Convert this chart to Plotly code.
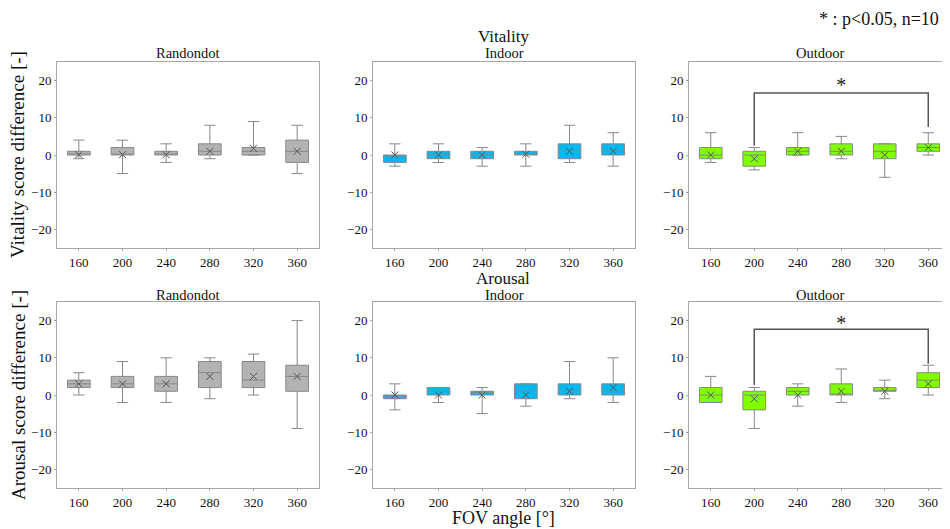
import plotly.graph_objects as go

fov = ['160', '200', '240', '280', '320', '360']
conditions = ['Randondot', 'Indoor', 'Outdoor']
fills = ['#b3b3b3', '#00b9f2', '#7fff00']

# Vitality score difference: per condition [Randondot, Indoor, Outdoor]
vit_lower = [[-1, -5, -2, -1, 0, -5], [-3, -2, -3, -3, -2, -3], [-2, -4, 0, -1, -6, 0]]
vit_q1 = [[0, 0, 0, 0, 0, -2], [-2, -1, -1, 0, -1, 0], [-1, -3, 0, 0, -1, 1]]
vit_median = [[0, 0, 0, 1, 1, 1], [0, 0, 0, 0, 1, 1], [0, 0, 1, 1, 1, 2]]
vit_q3 = [[1, 2, 1, 3, 2, 4], [0, 1, 1, 1, 3, 3], [2, 1, 2, 3, 3, 3]]
vit_upper = [[4, 4, 3, 8, 9, 8], [3, 3, 2, 3, 8, 6], [6, 2, 6, 5, 3, 6]]
vit_mean = [[0.1, 0.1, 0.1, 1, 1.8, 1], [0, 0, 0, 0.2, 1, 1], [0, -1, 1, 1, 0, 2]]

# Arousal score difference
ar_lower = [[0, -2, -2, -1, 0, -9], [-4, -2, -5, -3, -1, -2], [-2, -9, -3, -2, -1, 0]]
ar_q1 = [[2, 2, 1, 2, 2, 1], [-1, 0, 0, -1, 0, 0], [-2, -4, 0, 0, 1, 2]]
ar_median = [[3, 3, 3, 6, 4, 5], [0, 1, 1, 1, 1, 1], [0, 0, 1, 0, 1, 4]]
ar_q3 = [[4, 5, 5, 9, 9, 8], [0, 2, 1, 3, 3, 3], [2, 1, 2, 3, 2, 6]]
ar_upper = [[6, 9, 10, 10, 11, 20], [3, 2, 2, 3, 9, 10], [5, 2, 3, 7, 4, 8]]
ar_mean = [[3, 3, 3, 5, 5, 5], [0, 0, 0, 0, 1, 2], [0, -1, 0, 1, 1, 3]]

# significance brackets (Outdoor, 200 vs 360)
brk_x = ['200', '200', '360', '360']
brk_vit = [2.5, 16.7, 16.7, 7.5]
brk_ar = [2.7, 17.7, 17.7, 8.4]
star_x = ['280']
star_vit = [18.4]
star_ar = [18.9]

FONT = 'Liberation Serif'
OFF = 8                      # page body margin offset
W, H = 950 - OFF, 529 - OFF  # figure size visible in the window


def px_x(p):
    return (p - OFF) / W


def px_y(p):
    return (H - (p - OFF)) / H


fig = go.Figure()

xdom = [[px_x(57), px_x(319)], [px_x(373), px_x(635)], [px_x(689), 1.0]]
ydom = [[px_y(248), px_y(62)], [px_y(488), px_y(302)]]

rows = [
    (vit_lower, vit_q1, vit_median, vit_q3, vit_upper, vit_mean, brk_vit, star_vit),
    (ar_lower, ar_q1, ar_median, ar_q3, ar_upper, ar_mean, brk_ar, star_ar),
]

layout_axes = {}
for r, (lo, q1, med, q3, hi, mn, brk, star) in enumerate(rows):
    for c in range(3):
        idx = r * 3 + c + 1
        xa = 'x' if idx == 1 else f'x{idx}'
        ya = 'y' if idx == 1 else f'y{idx}'
        fig.add_trace(go.Box(
            x=fov, q1=q1[c], median=med[c], q3=q3[c],
            lowerfence=lo[c], upperfence=hi[c],
            boxpoints=False, width=0.52, whiskerwidth=0.5,
            fillcolor=fills[c], line=dict(color='#888888', width=1),
            xaxis=xa, yaxis=ya, showlegend=False, hoverinfo='skip'))
        fig.add_trace(go.Scatter(
            x=fov, y=mn[c], mode='markers',
            marker=dict(symbol='x-thin-open', size=7, color='#555555',
                        line=dict(color='#555555', width=1)),
            xaxis=xa, yaxis=ya, showlegend=False, hoverinfo='skip'))
        if c == 2:
            fig.add_trace(go.Scatter(
                x=brk_x, y=brk, mode='lines',
                line=dict(color='#555555', width=1.5),
                xaxis=xa, yaxis=ya, showlegend=False, hoverinfo='skip'))
            fig.add_trace(go.Scatter(
                x=star_x, y=star, mode='text', text=['*'],
                textfont=dict(family=FONT, size=20, color='#222222'),
                textposition='middle center',
                xaxis=xa, yaxis=ya, showlegend=False, hoverinfo='skip'))
        axcommon = dict(showline=True, linecolor='#a6a6a6', linewidth=1, mirror=True,
                        showgrid=False, zeroline=False, ticks='outside', ticklen=2,
                        tickcolor='#a6a6a6',
                        tickfont=dict(family=FONT, size=13, color='#111111'))
        layout_axes['xaxis' if idx == 1 else f'xaxis{idx}'] = dict(
            axcommon, domain=xdom[c], type='category', categoryorder='array',
            categoryarray=fov, range=[-0.5, 5.5], anchor=ya)
        layout_axes['yaxis' if idx == 1 else f'yaxis{idx}'] = dict(
            axcommon, domain=ydom[r], range=[-25, 25], tickvals=[-20, -10, 0, 10, 20],
            anchor=xa)

fig.update_layout(**layout_axes)

ann = []
centers = [188, 504, 820]
for c, name in enumerate(conditions):
    for ypx in (53, 295):
        ann.append(dict(text=name, x=px_x(centers[c]), y=px_y(ypx), xref='paper',
                        yref='paper', showarrow=False, xanchor='center', yanchor='middle',
                        font=dict(family=FONT, size=14.5, color='#111111')))
ann.append(dict(text='Vitality', x=px_x(503), y=px_y(37), xref='paper', yref='paper',
                showarrow=False, xanchor='center', yanchor='middle',
                font=dict(family=FONT, size=17, color='#111111')))
ann.append(dict(text='Arousal', x=px_x(503), y=px_y(278), xref='paper', yref='paper',
                showarrow=False, xanchor='center', yanchor='middle',
                font=dict(family=FONT, size=17, color='#111111')))
ann.append(dict(text='* : p<0.05, n=10', x=px_x(941), y=px_y(19), xref='paper',
                yref='paper', showarrow=False, xanchor='right', yanchor='middle',
                font=dict(family=FONT, size=18, color='#111111')))
ann.append(dict(text='FOV angle [°]', x=px_x(503), y=px_y(518), xref='paper',
                yref='paper', showarrow=False, xanchor='center', yanchor='middle',
                font=dict(family=FONT, size=18, color='#111111')))
ann.append(dict(text='Vitality score difference [-]', x=px_x(18), y=px_y(155),
                xref='paper', yref='paper', showarrow=False, xanchor='center',
                yanchor='middle', textangle=-90,
                font=dict(family=FONT, size=19, color='#111111')))
ann.append(dict(text='Arousal score difference [-]', x=px_x(18), y=px_y(395),
                xref='paper', yref='paper', showarrow=False, xanchor='center',
                yanchor='middle', textangle=-90,
                font=dict(family=FONT, size=19, color='#111111')))

fig.update_layout(
    width=W, height=H, margin=dict(l=0, r=0, t=0, b=0),
    paper_bgcolor='white', plot_bgcolor='white',
    font=dict(family=FONT, color='#111111'),
    annotations=ann, showlegend=False)

fig.write_html('out.html')
